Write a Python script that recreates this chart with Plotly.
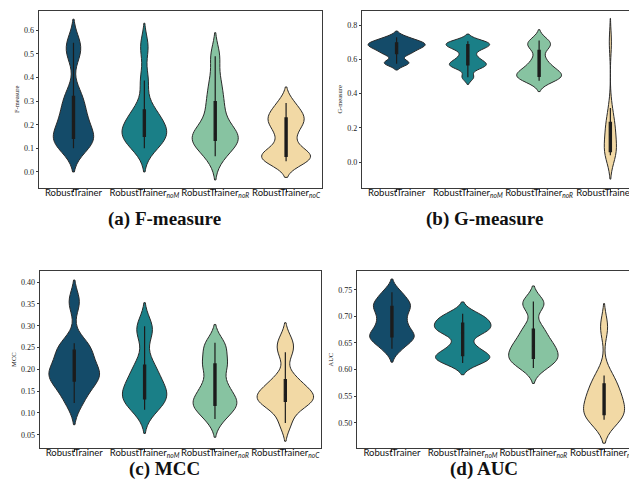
import plotly.graph_objects as go

# ---------------- data ----------------
categories = [
    "RobustTrainer",
    "RobustTrainer<sub><i>noM</i></sub>",
    "RobustTrainer<sub><i>noR</i></sub>",
    "RobustTrainer<sub><i>noC</i></sub>",
]

f_robust = [0.10, 0.12, 0.14, 0.15, 0.17, 0.217, 0.24, 0.29, 0.33, 0.50, 0.547]
f_nom = [0.10, 0.13, 0.15, 0.152, 0.17, 0.193, 0.21, 0.24, 0.27, 0.387, 0.53]
f_nor = [0.066, 0.11, 0.13, 0.145, 0.15, 0.161, 0.20, 0.26, 0.31, 0.38, 0.49]
f_noc = [0.045, 0.055, 0.065, 0.07, 0.09, 0.144, 0.19, 0.21, 0.235, 0.25, 0.292]

g_robust = [0.574, 0.585, 0.63, 0.645, 0.665, 0.671, 0.685, 0.69, 0.70, 0.71, 0.73]
g_nom = [0.496, 0.55, 0.565, 0.575, 0.59, 0.619, 0.66, 0.675, 0.69, 0.695, 0.706]
g_nor = [0.476, 0.49, 0.50, 0.505, 0.52, 0.54, 0.56, 0.60, 0.67, 0.69, 0.71]
g_noc = [0.04, 0.05, 0.06, 0.065, 0.10, 0.16, 0.18, 0.22, 0.235, 0.316, 0.70]

mcc_robust = [0.123, 0.15, 0.17, 0.182, 0.19, 0.196, 0.21, 0.235, 0.247, 0.26, 0.355]
mcc_nom = [0.107, 0.125, 0.13, 0.138, 0.148, 0.162, 0.175, 0.195, 0.215, 0.285, 0.299]
mcc_nor = [0.086, 0.11, 0.115, 0.125, 0.135, 0.152, 0.17, 0.205, 0.215, 0.245, 0.261]
mcc_noc = [0.077, 0.115, 0.125, 0.13, 0.135, 0.142, 0.15, 0.165, 0.18, 0.239, 0.265]

auc_robust = [0.639, 0.655, 0.66, 0.665, 0.675, 0.6875, 0.70, 0.715, 0.72, 0.73, 0.745]
auc_nom = [0.6125, 0.62, 0.625, 0.63, 0.645, 0.669, 0.675, 0.68, 0.69, 0.695, 0.705]
auc_nor = [0.603, 0.615, 0.62, 0.625, 0.635, 0.644, 0.65, 0.665, 0.68, 0.72, 0.728]
auc_noc = [0.506, 0.51, 0.515, 0.518, 0.53, 0.545, 0.55, 0.56, 0.578, 0.589, 0.68]

metric_titles = ["F-measure", "G-measure", "MCC", "AUC"]
captions = ["(a) F-measure", "(b) G-measure", "(c) MCC", "(d) AUC"]
y_tickvals = [
    [0.0, 0.1, 0.2, 0.3, 0.4, 0.5, 0.6],
    [0.0, 0.2, 0.4, 0.6, 0.8],
    [0.05, 0.10, 0.15, 0.20, 0.25, 0.30, 0.35, 0.40],
    [0.50, 0.55, 0.60, 0.65, 0.70, 0.75],
]

# ---------------- styling ----------------
colors = ["#144B69", "#1A7F87", "#87C3A1", "#F2D9A5"]
panels = [
    dict(data=[f_robust, f_nom, f_nor, f_noc], bw=[0.05, 0.05, 0.05, 0.034],
         widths=[0.57, 0.63, 0.65, 0.69], xdom=[31 / 637, 316 / 637], ydom=[1 - 180 / 498, 1 - 2.7 / 498],
         xr=[-0.49, 3.5], yr=[-0.068, 0.683], fmt=".1f", mirror_y=True),
    dict(data=[g_robust, g_nom, g_nor, g_noc], bw=[0.018, 0.021, 0.032, 0.07],
         widths=[0.80, 0.61, 0.63, 0.17], xdom=[356.7 / 637, 1.0], ydom=[1 - 180 / 498, 1 - 2.7 / 498],
         xr=[-0.487, 3.416], yr=[-0.152, 0.885], fmt=".1f", mirror_y=False),
    dict(data=[mcc_robust, mcc_nom, mcc_nor, mcc_noc], bw=[0.025, 0.027, 0.021, 0.021],
         widths=[0.72, 0.63, 0.62, 0.80], xdom=[32 / 637, 315 / 637], ydom=[1 - 440 / 498, 1 - 263.3 / 498],
         xr=[-0.49, 3.5], yr=[0.0195, 0.425], fmt=".2f", mirror_y=True),
    dict(data=[auc_robust, auc_nom, auc_nor, auc_noc], bw=[0.0125, 0.011, 0.0145, 0.022],
         widths=[0.63, 0.80, 0.70, 0.58], xdom=[351.7 / 637, 635 / 637], ydom=[1 - 440 / 498, 1 - 263.3 / 498],
         xr=[-0.495, 3.48], yr=[0.453, 0.7845], fmt=".2f", mirror_y=True),
]
caption_pos = [(158, 211), (480, 211), (158, 461), (480, 461)]

fig = go.Figure()
layout = dict(
    width=637, height=498,
    margin=dict(l=0, r=0, t=0, b=0),
    paper_bgcolor="white", plot_bgcolor="white",
    violinmode="overlay",
    showlegend=False,
    annotations=[],
)

spine = "#3a3a3a"
for p_i, p in enumerate(panels):
    sfx = "" if p_i == 0 else str(p_i + 1)
    xa, ya = "x" + sfx, "y" + sfx
    for c_i, vals in enumerate(p["data"]):
        w = p["widths"][c_i]
        fig.add_trace(go.Violin(
            x=[categories[c_i]] * len(vals), y=vals,
            xaxis=xa, yaxis=ya,
            fillcolor=colors[c_i], opacity=1,
            line=dict(color="#2a2a2a", width=1),
            points=False, bandwidth=p["bw"][c_i],
            width=w, scalemode="width", spanmode="soft",
            box=dict(visible=True, width=2.2 / (w * 71.5), fillcolor="#1c1c1c",
                     line=dict(color="#1c1c1c", width=1.2)),
            meanline=dict(visible=False),
            hoverinfo="skip", showlegend=False,
        ))
    layout["xaxis" + sfx] = dict(
        domain=p["xdom"], anchor=ya, type="category", categoryorder="array",
        categoryarray=categories, range=p["xr"],
        showline=True, linecolor=spine, linewidth=1.3, mirror=True,
        ticks="outside", ticklen=3, tickcolor=spine, tickwidth=1,
        showgrid=False, zeroline=False, tickangle=0, ticklabelstandoff=-8,
        tickfont=dict(family="Lato", size=9.5, color="#111"),
    )
    layout["yaxis" + sfx] = dict(
        domain=p["ydom"], anchor=xa, range=p["yr"],
        tickvals=y_tickvals[p_i], tickformat=p["fmt"],
        showline=True, linecolor=spine, linewidth=1.3, mirror=p["mirror_y"],
        ticks="outside", ticklen=2, tickcolor=spine, tickwidth=1,
        showgrid=False, zeroline=False,
        tickfont=dict(family="Liberation Serif", size=8, color="#222"),
        title=dict(text=metric_titles[p_i], font=dict(family="Liberation Serif", size=6.5, color="#222"),
                   standoff=3),
    )
    cx, cy = caption_pos[p_i]
    layout["annotations"].append(dict(
        x=cx / 637, y=1 - cy / 498, xref="paper", yref="paper",
        text="<b>" + captions[p_i] + "</b>", showarrow=False,
        xanchor="center", yanchor="middle",
        font=dict(family="Liberation Serif", size=19, color="#111"),
    ))

fig.update_layout(**layout)
fig.write_html("out.html")
